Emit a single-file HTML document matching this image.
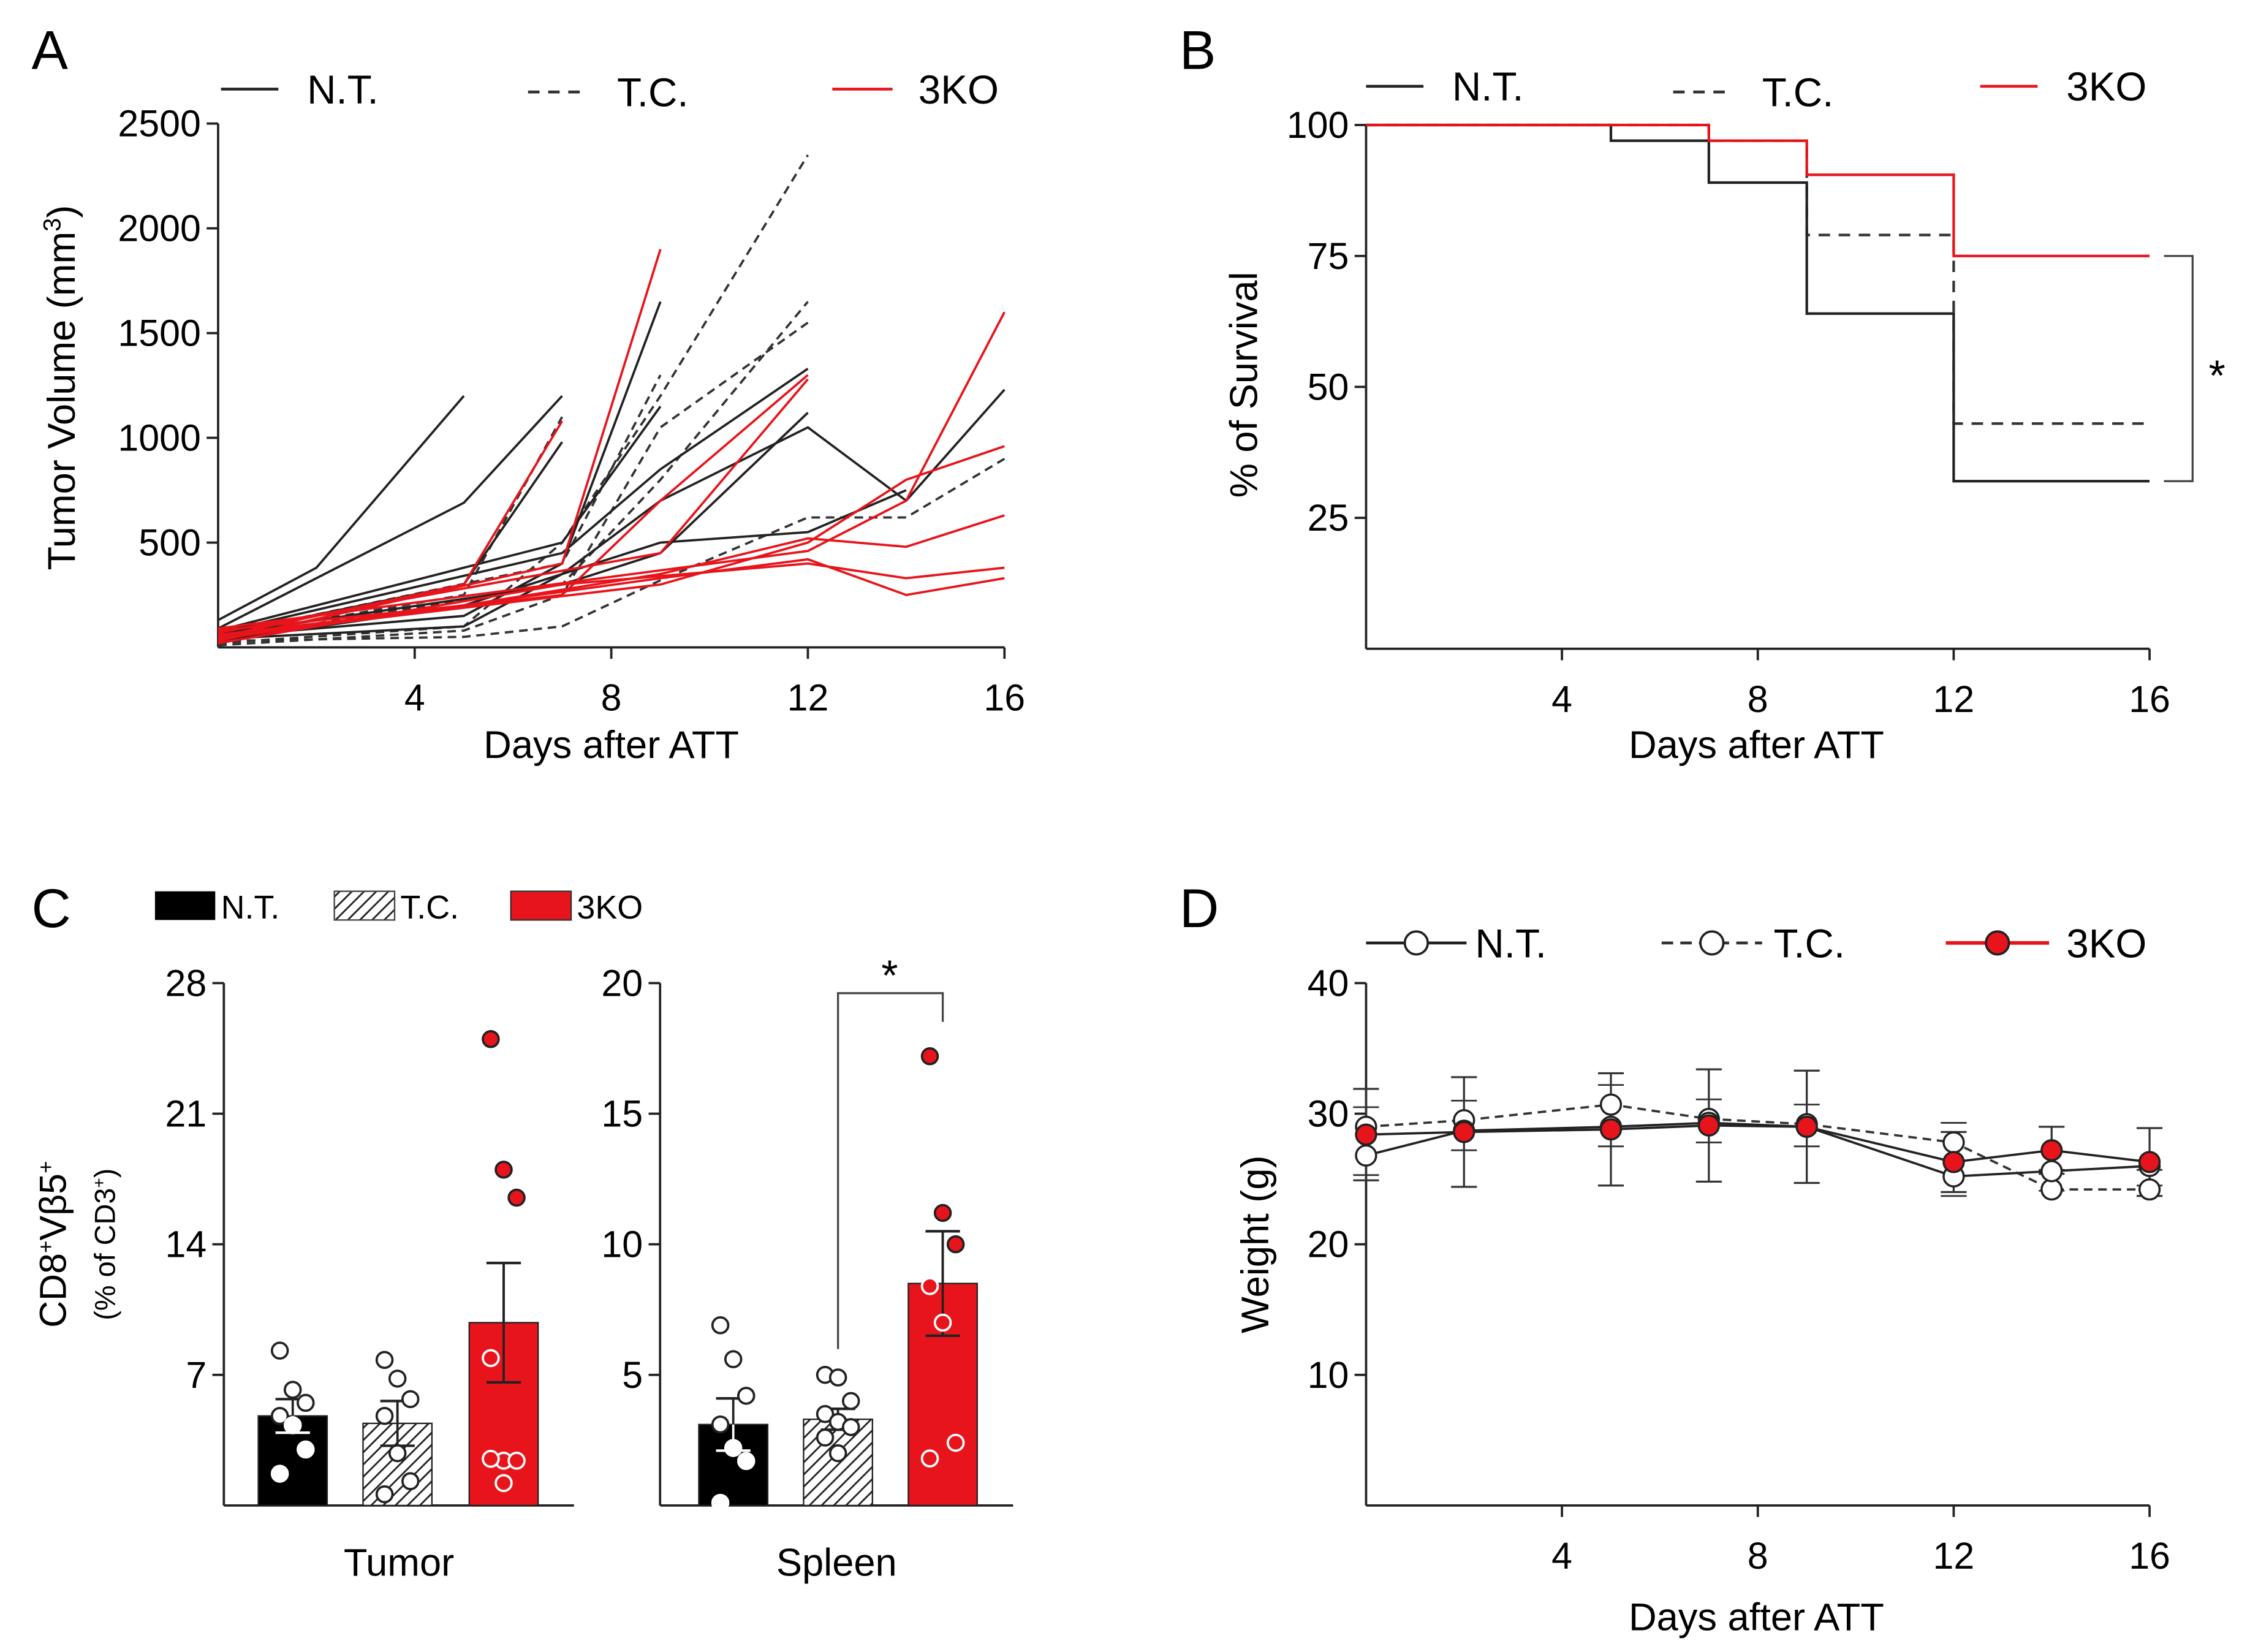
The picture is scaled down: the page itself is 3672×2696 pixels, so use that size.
<!DOCTYPE html>
<html><head><meta charset="utf-8"><style>
html,body{margin:0;padding:0;background:#fff;}
svg{display:block;font-family:"Liberation Sans",Arial,sans-serif;}
</style></head><body>
<svg id="fig" width="3672" height="2696" viewBox="0 0 1568 1151" xmlns="http://www.w3.org/2000/svg">
<defs>
<pattern id="hatch" patternUnits="userSpaceOnUse" width="6" height="6" patternTransform="rotate(45)">
<rect width="6" height="6" fill="#fff"/><line x1="0" y1="0" x2="0" y2="6" stroke="#222" stroke-width="2.4"/>
</pattern>
</defs>
</svg>
<script>
// ---------- Panel A data ----------
const aNT = [
 [[0,130],[2,380],[5,1200]],
 [[0,90],[5,690],[7,1200]],
 [[0,60],[5,300],[7,980]],
 [[0,50],[5,150],[7,400],[9,1650]],
 [[0,80],[7,500],[9,1150]],
 [[0,40],[5,100],[7,350],[9,700],[12,1050],[14,700],[16,1230]],
 [[0,70],[7,450],[9,850],[12,1330]],
 [[0,60],[7,300],[9,450],[12,1120]],
 [[0,30],[5,200],[9,500],[12,550],[14,750]]
];
const aTC = [
 [[0,20],[5,100],[7,500],[9,1200],[12,2350]],
 [[0,40],[7,300],[9,800],[12,1650]],
 [[0,50],[5,250],[7,1100]],
 [[0,30],[5,50],[7,100],[9,320],[12,620],[14,620],[16,900]],
 [[0,60],[7,400],[9,1300]],
 [[0,10],[5,80],[7,250],[9,1050],[12,1550]]
];
const aKO = [
 [[0,50],[5,300],[7,1080]],
 [[0,30],[7,400],[9,1900]],
 [[0,60],[7,250],[9,700],[12,1300]],
 [[0,80],[5,200],[9,350],[12,520],[14,480],[16,630]],
 [[0,40],[9,330],[12,420],[14,250],[16,330]],
 [[0,20],[7,300],[12,400],[14,330],[16,380]],
 [[0,70],[9,450],[12,1280]],
 [[0,50],[9,300],[12,500],[14,800],[16,960]],
 [[0,90],[12,460],[14,700],[16,1600]]
];
const aYTicks = [500,1000,1500,2000,2500];
const xTicks = [4,8,12,16];
// ---------- Panel B data ----------
const bNT = [[0,100],[5,97],[7,89],[9,64],[12,32],[16,32]];
const bTC = [[0,100],[7,97],[9,79],[12,43],[16,43]];
const bKO = [[0,100],[7,97],[9,90.5],[12,75],[16,75]];
const bYTicks = [25,50,75,100];
// ---------- Panel C data ----------
const cGroups = ["N.T.","T.C.","3KO"];
const tumMeans = [4.8,4.4,9.8];
const tumErr = [0.9,1.2,3.2];
const tumPts = [[8.3,6.2,5.5,4.8,4.3,3.0,1.7],[7.8,6.8,5.7,4.8,2.8,1.3,0.6],[25,18,16.5,7.9,2.4,2.4,2.5,1.2]];
const tumTicks = [7,14,21,28];
const splMeans = [3.1,3.3,8.5];
const splErr = [1.0,0.4,2.0];
const splPts = [[6.9,5.6,4.2,3.1,2.2,1.7,0.1],[5.0,4.9,4.0,3.5,3.2,3.0,2.6,2.0],[17.2,11.2,10.0,8.4,7.0,2.4,1.8]];
const splTicks = [5,10,15,20];
// ---------- Panel D data ----------
const dDays = [0,2,5,7,9,12,14,16];
const dNT = [26.8,28.7,29.0,29.3,29.0,25.2,25.6,26.0];
const dTC = [29.0,29.5,30.7,29.6,29.2,27.8,24.2,24.2];
const dKO = [28.4,28.6,28.8,29.1,29.0,26.3,27.2,26.3];
const dErr = [3.5,4.2,4.3,4.3,4.3,2.3,1.8,2.6];
const dYTicks = [10,20,30,40];

const NS="http://www.w3.org/2000/svg";
const svg=document.getElementById('fig');
function mk(tag,attrs,parent,text){const e=document.createElementNS(NS,tag);for(const k in attrs)e.setAttribute(k,attrs[k]);if(text!==undefined)e.textContent=text;(parent||svg).appendChild(e);return e;}
function grp(name){const g=mk('g',{});return g;}
const RED="#e8141b";

// ========== Panel A ==========
(function(){
 const g=grp('panel-a');
 const x0=152,x1=700,y0=451;
 const sx=d=>x0+(x1-x0)*d/16, sy=v=>y0-v*(73/500);
 mk('text',{x:22,y:48,'font-size':38},g,'A');
 mk('line',{x1:x0,y1:86,x2:x0,y2:y0,stroke:'#222','stroke-width':1.6},g);
 mk('line',{x1:x0,y1:y0,x2:x1,y2:y0,stroke:'#222','stroke-width':1.6},g);
 aYTicks.forEach(t=>{mk('line',{x1:x0-8,y1:sy(t),x2:x0,y2:sy(t),stroke:'#222','stroke-width':1.6},g);
  mk('text',{x:x0-12,y:sy(t)+9,'font-size':26,'text-anchor':'end'},g,t);});
 xTicks.forEach(t=>{mk('line',{x1:sx(t),y1:y0,x2:sx(t),y2:y0+8,stroke:'#222','stroke-width':1.6},g);
  mk('text',{x:sx(t),y:y0+44,'font-size':26,'text-anchor':'middle'},g,t);});
 mk('text',{x:426,y:528,'font-size':27,'text-anchor':'middle'},g,'Days after ATT');
 const yt=mk('text',{x:52,y:270,'font-size':27,'text-anchor':'middle',transform:'rotate(-90 52 270)'},g,'Tumor Volume (mm');
 mk('tspan',{dy:-10,'font-size':17},yt,'3');mk('tspan',{dy:10},yt,')');
 const draw=(arr,col,dash,name)=>arr.forEach(s=>{const p=mk('polyline',{points:s.map(q=>sx(q[0])+','+sy(q[1])).join(' '),fill:'none',stroke:col,'stroke-width':1.6,'stroke-dasharray':dash||'none'},g);});
 draw(aTC,'#333','6 4','line-tc');draw(aNT,'#222','','line-nt');draw(aKO,RED,'','line-3ko');
 const lg=grp('legend-a');
 mk('line',{x1:154,y1:62,x2:194,y2:62,stroke:'#222','stroke-width':2},lg);mk('text',{x:214,y:72,'font-size':28},lg,'N.T.');
 mk('line',{x1:368,y1:64,x2:410,y2:64,stroke:'#333','stroke-width':2,'stroke-dasharray':'8 6'},lg);mk('text',{x:430,y:74,'font-size':28},lg,'T.C.');
 mk('line',{x1:580,y1:62,x2:622,y2:62,stroke:RED,'stroke-width':2},lg);mk('text',{x:640,y:72,'font-size':28},lg,'3KO');
})();

// ========== Panel B ==========
(function(){
 const g=grp('panel-b');
 const x0=952,x1=1498,y0=452;
 const sx=d=>x0+(x1-x0)*d/16, sy=v=>y0-v*(365/100);
 mk('text',{x:822,y:48,'font-size':38},g,'B');
 mk('line',{x1:x0,y1:87,x2:x0,y2:y0,stroke:'#222','stroke-width':1.6},g);
 mk('line',{x1:x0,y1:y0,x2:x1,y2:y0,stroke:'#222','stroke-width':1.6},g);
 bYTicks.forEach(t=>{mk('line',{x1:x0-8,y1:sy(t),x2:x0,y2:sy(t),stroke:'#222','stroke-width':1.6},g);
  mk('text',{x:x0-12,y:sy(t)+9,'font-size':26,'text-anchor':'end'},g,t);});
 xTicks.forEach(t=>{mk('line',{x1:sx(t),y1:y0,x2:sx(t),y2:y0+8,stroke:'#222','stroke-width':1.6},g);
  mk('text',{x:sx(t),y:y0+44,'font-size':26,'text-anchor':'middle'},g,t);});
 mk('text',{x:1224,y:528,'font-size':27,'text-anchor':'middle'},g,'Days after ATT');
 mk('text',{x:876,y:268,'font-size':27,'text-anchor':'middle',transform:'rotate(-90 876 268)'},g,'% of Survival');
 const step=(s,col,dash,name)=>{let pts=[];s.forEach((q,i)=>{if(i>0)pts.push(sx(q[0])+','+sy(s[i-1][1]));pts.push(sx(q[0])+','+sy(q[1]));});
  const p=mk('polyline',{points:pts.join(' '),fill:'none',stroke:col,'stroke-width':1.8,'stroke-dasharray':dash||'none'},g);};
 step(bTC,'#333','8 6','survival-tc');step(bNT,'#222','','survival-nt');step(bKO,RED,'','survival-3ko');
 const bx=1528;
 mk('polyline',{points:`${bx-20},${sy(75)} ${bx},${sy(75)} ${bx},${sy(32)} ${bx-20},${sy(32)}`,fill:'none',stroke:'#444','stroke-width':1.4},g);
 mk('text',{x:1545,y:272,'font-size':30,'text-anchor':'middle'},g,'*');
 const lg=grp('legend-b');
 mk('line',{x1:952,y1:60,x2:992,y2:60,stroke:'#222','stroke-width':2},lg);mk('text',{x:1012,y:70,'font-size':28},lg,'N.T.');
 mk('line',{x1:1166,y1:64,x2:1208,y2:64,stroke:'#333','stroke-width':2,'stroke-dasharray':'8 6'},lg);mk('text',{x:1228,y:74,'font-size':28},lg,'T.C.');
 mk('line',{x1:1380,y1:60,x2:1420,y2:60,stroke:RED,'stroke-width':2},lg);mk('text',{x:1440,y:70,'font-size':28},lg,'3KO');
})();

// ========== Panel C ==========
(function(){
 const g=grp('panel-c');
 mk('text',{x:22,y:646,'font-size':38},g,'C');
 const lg=grp('legend-c');
 mk('rect',{x:108,y:621,width:42,height:20,fill:'#000'},lg);mk('text',{x:154,y:640,'font-size':23},lg,'N.T.');
 mk('rect',{x:233,y:621,width:42,height:20,fill:'url(#hatch)',stroke:'#444','stroke-width':1},lg);mk('text',{x:279,y:640,'font-size':23},lg,'T.C.');
 mk('rect',{x:356,y:621,width:42,height:20,fill:RED,stroke:'#333','stroke-width':1},lg);mk('text',{x:402,y:640,'font-size':23},lg,'3KO');
 const yl=mk('text',{x:46,y:867,'font-size':26,'text-anchor':'middle',transform:'rotate(-90 46 867)'},g,'CD8');
 mk('tspan',{dy:-9,'font-size':15},yl,'+');mk('tspan',{dy:9},yl,'Vβ5');mk('tspan',{dy:-9,'font-size':15},yl,'+');
 const yl2=mk('text',{x:80,y:867,'font-size':20,'text-anchor':'middle',transform:'rotate(-90 80 867)'},g,'(% of CD3');
 mk('tspan',{dy:-7,'font-size':12},yl2,'+');mk('tspan',{dy:7},yl2,')');
 const fills=['#000','url(#hatch)',RED];
 function sub(ax,xEnd,max,ticks,means,errs,pts,centers,label,name){
  const sg=grp(name);
  const y0=1049,top=685,sy=v=>y0-(y0-top)*v/max;
  mk('line',{x1:ax,y1:top,x2:ax,y2:y0,stroke:'#222','stroke-width':1.6},sg);
  mk('line',{x1:ax,y1:y0,x2:xEnd,y2:y0,stroke:'#222','stroke-width':1.6},sg);
  ticks.forEach(t=>{mk('line',{x1:ax-8,y1:sy(t),x2:ax,y2:sy(t),stroke:'#222','stroke-width':1.6},sg);
   mk('text',{x:ax-12,y:sy(t)+9,'font-size':26,'text-anchor':'end'},sg,t);});
  means.forEach((m,i)=>{const c=centers[i],w=48;
   const r=mk('rect',{x:c-w/2,y:sy(m),width:w,height:y0-sy(m),fill:fills[i],stroke:'#222','stroke-width':1},sg);
   
   mk('line',{x1:c,y1:sy(m-errs[i]),x2:c,y2:sy(m+errs[i]),stroke:i==0?'#fff':'#222','stroke-width':1.6},sg);
   mk('line',{x1:c,y1:sy(m),x2:c,y2:sy(m+errs[i]),stroke:'#222','stroke-width':1.6},sg);
   mk('line',{x1:c-12,y1:sy(m+errs[i]),x2:c+12,y2:sy(m+errs[i]),stroke:'#222','stroke-width':1.8},sg);
   mk('line',{x1:c-12,y1:sy(m-errs[i]),x2:c+12,y2:sy(m-errs[i]),stroke:i==0?'#fff':'#222','stroke-width':1.8},sg);
   pts[i].forEach((v,j)=>{const off=((j%3)-1)*9;
    const inside=v<m;
    let f,s;
    if(i==0){f='#fff';s=inside?'#fff':'#222';}
    else if(i==1){f='#fff';s='#222';}
    else {f=RED;s=inside?'#fff':'#222';}
    const cc=mk('circle',{cx:c+off,cy:sy(v),r:5.5,fill:f,stroke:s,'stroke-width':1.6},sg);
    });
  });
  mk('text',{x:(ax+xEnd)/2,y:1098,'font-size':27,'text-anchor':'middle'},sg,label);
  return sy;
 }
 sub(156,400,28,tumTicks,tumMeans,tumErr,tumPts,[204,277,351],'Tumor','tumor-chart');
 sub(460,706,20,splTicks,splMeans,splErr,splPts,[511,584,657],'Spleen','spleen-chart');
 mk('polyline',{points:`584,940 584,692 657,692 657,712`,fill:'none',stroke:'#444','stroke-width':1.4},g);
 mk('text',{x:620,y:690,'font-size':30,'text-anchor':'middle'},g,'*');
})();

// ========== Panel D ==========
(function(){
 const g=grp('panel-d');
 const x0=952,x1=1498,y0=1049;
 const sx=d=>x0+(x1-x0)*d/16, sy=v=>y0-v*(364/40);
 mk('text',{x:822,y:646,'font-size':38},g,'D');
 mk('line',{x1:x0,y1:685,x2:x0,y2:y0,stroke:'#222','stroke-width':1.6},g);
 mk('line',{x1:x0,y1:y0,x2:x1,y2:y0,stroke:'#222','stroke-width':1.6},g);
 dYTicks.forEach(t=>{mk('line',{x1:x0-8,y1:sy(t),x2:x0,y2:sy(t),stroke:'#222','stroke-width':1.6},g);
  mk('text',{x:x0-12,y:sy(t)+9,'font-size':26,'text-anchor':'end'},g,t);});
 xTicks.forEach(t=>{mk('line',{x1:sx(t),y1:y0,x2:sx(t),y2:y0+8,stroke:'#222','stroke-width':1.6},g);
  mk('text',{x:sx(t),y:y0+44,'font-size':26,'text-anchor':'middle'},g,t);});
 mk('text',{x:1224,y:1136,'font-size':27,'text-anchor':'middle'},g,'Days after ATT');
 mk('text',{x:884,y:867,'font-size':27,'text-anchor':'middle',transform:'rotate(-90 884 867)'},g,'Weight (g)');
 dDays.forEach((d,i)=>{const x=sx(d);
  const v=dKO[i],e=dErr[i];
  mk('line',{x1:x,y1:sy(v-e),x2:x,y2:sy(v+e),stroke:'#333','stroke-width':1.4},g);
  mk('line',{x1:x-9,y1:sy(v+e),x2:x+9,y2:sy(v+e),stroke:'#333','stroke-width':1.4},g);
  mk('line',{x1:x-9,y1:sy(v-e),x2:x+9,y2:sy(v-e),stroke:'#333','stroke-width':1.4},g);
  mk('line',{x1:x-9,y1:sy(dNT[i]-1.5),x2:x+9,y2:sy(dNT[i]-1.5),stroke:'#333','stroke-width':1.2},g);
  mk('line',{x1:x-9,y1:sy(dTC[i]+1.5),x2:x+9,y2:sy(dTC[i]+1.5),stroke:'#333','stroke-width':1.2},g);
 });
 const line=(arr,col,dash,fill,name)=>{const p=mk('polyline',{points:dDays.map((d,i)=>sx(d)+','+sy(arr[i])).join(' '),fill:'none',stroke:col,'stroke-width':1.6,'stroke-dasharray':dash||'none'},g);
  
  dDays.forEach((d,i)=>{const c=mk('circle',{cx:sx(d),cy:sy(arr[i]),r:7,fill:fill,stroke:'#222','stroke-width':1.5},g);});};
 line(dTC,'#333','6 4','#fff','weight-tc');line(dNT,'#222','','#fff','weight-nt');line(dKO,'#222','',RED,'weight-3ko');
 const lg=grp('legend-d');
 mk('line',{x1:952,y1:657,x2:1022,y2:657,stroke:'#222','stroke-width':2},lg);mk('circle',{cx:987,cy:657,r:8,fill:'#fff',stroke:'#222','stroke-width':1.6},lg);mk('text',{x:1028,y:667,'font-size':28},lg,'N.T.');
 mk('line',{x1:1158,y1:657,x2:1228,y2:657,stroke:'#333','stroke-width':2,'stroke-dasharray':'8 5'},lg);mk('circle',{cx:1193,cy:657,r:8,fill:'#fff',stroke:'#222','stroke-width':1.6},lg);mk('text',{x:1236,y:667,'font-size':28},lg,'T.C.');
 mk('line',{x1:1356,y1:657,x2:1428,y2:657,stroke:RED,'stroke-width':2.5},lg);mk('circle',{cx:1392,cy:657,r:8,fill:RED,stroke:'#222','stroke-width':1.6},lg);mk('text',{x:1440,y:667,'font-size':28},lg,'3KO');
})();
</script>
</body></html>
